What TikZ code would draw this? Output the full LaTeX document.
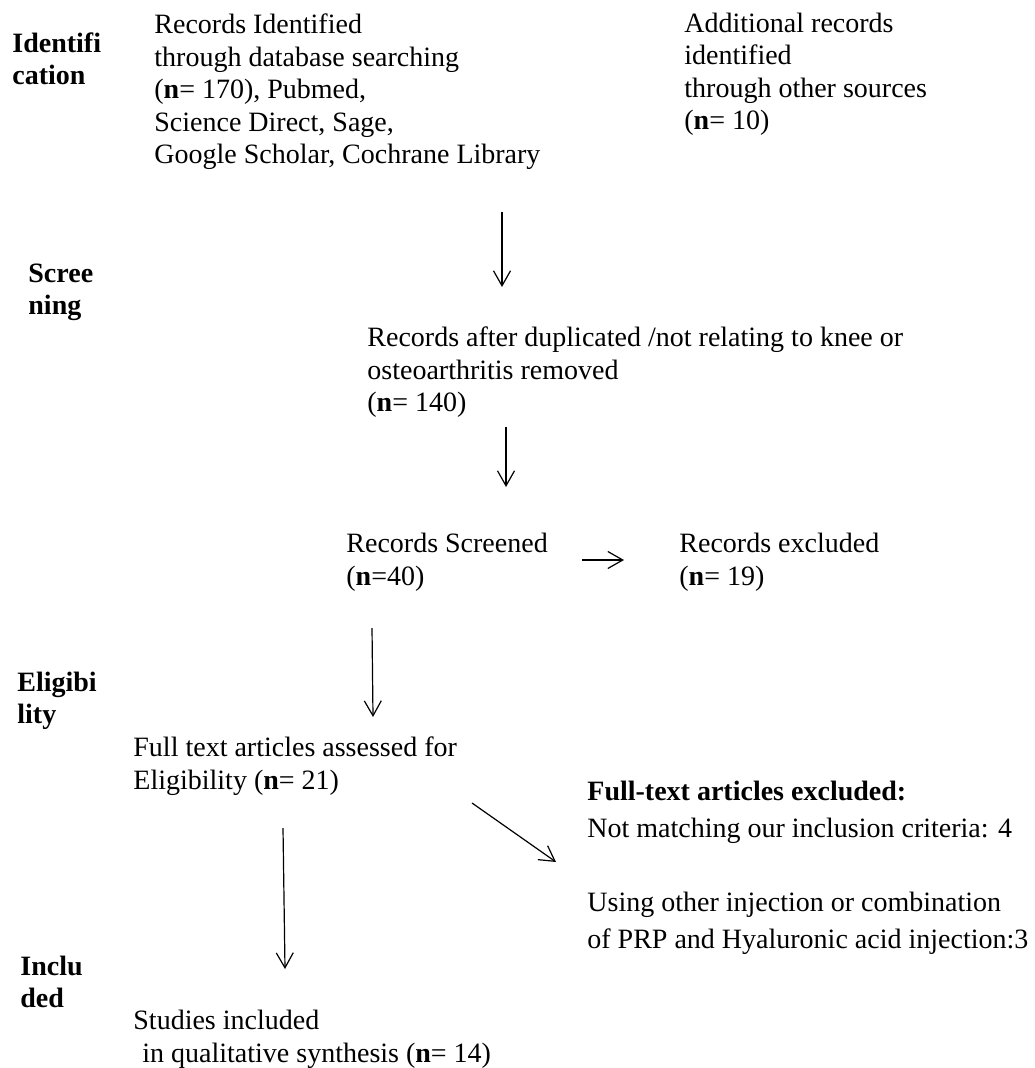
\documentclass[tikz,border=0pt]{standalone}
\usepackage{fontspec}
\setmainfont{Liberation Serif}
\usetikzlibrary{arrows.meta,positioning}

\begin{document}
\begin{tikzpicture}[x=0.5pt,y=-0.5pt,
    every node/.style={inner sep=0pt},
    txt/.style={anchor=base west,align=left,font=\fontsize{14pt}{16.25pt}\selectfont},
    stage/.style={anchor=base west,align=left,font=\fontsize{14pt}{16pt}\selectfont\bfseries},
    flow/.style={->,line width=0.6pt},
    >={Straight Barb[length=7.5pt,width=8.5pt]}]
    \useasboundingbox (0,0) rectangle (1034,1068);

    % stage labels (placed at the baseline of their last line)
    \node[stage] (ident) at (12,85) {Identifi \\ cation};
    \node[stage] (screen) at (28,315) {Scree \\ ning};
    \node[stage] (elig) at (17,723) {Eligibi \\ lity};
    \node[stage] (incl) at (20,1007) {Inclu \\ ded};

    % boxes
    \node[txt] (dbrec) at (154,164) {Records Identified \\ through database searching \\ (\textbf{n}= 170), Pubmed, \\ Science Direct, Sage, \\ Google Scholar, Cochrane Library};
    \node[txt] (otherrec) at (684,130) {Additional records \\ identified \\ through other sources \\ (\textbf{n}= 10)};
    \node[txt] (dedup) at (367,412) {Records after duplicated /not relating to knee or \\ osteoarthritis removed \\ (\textbf{n}= 140)};
    \node[txt] (screened) at (346,585) {Records Screened \\ (\textbf{n}=40)};
    \node[txt] (recexcl) at (679,585) {Records excluded \\ (\textbf{n}= 19)};
    \node[txt] (fulltext) at (133,789) {Full text articles assessed for \\ Eligibility (\textbf{n}= 21)};
    \node[txt,font=\fontsize{14pt}{18.5pt}\selectfont] (ftexcl) at (587,948) {\textbf{Full-text articles excluded:} \\ Not matching our inclusion criteria: 4 \\[18.5pt] Using other injection or combination \\ of PRP and Hyaluronic acid injection:3};
    \node[txt] (studies) at (133,1062) {Studies included \\ \hspace{4.5pt}in qualitative synthesis (\textbf{n}= 14)};

    % arrow ends
    \coordinate (a1s) at (502,212);
    \coordinate (a1e) at (502,287);
    \coordinate (a2s) at (506,427);
    \coordinate (a2e) at (506,487);
    \coordinate (a3s) at (582,560);
    \coordinate (a3e) at (624,560);
    \coordinate (a4s) at (372,628);
    \coordinate (a4e) at (373,717);
    \coordinate (a5s) at (472,803);
    \coordinate (a5e) at (556,862);
    \coordinate (a6s) at (283,828);
    \coordinate (a6e) at (285,969);

    \draw[flow] (a1s) -- (a1e);
    \draw[flow] (a2s) -- (a2e);
    \draw[flow] (a3s) -- (a3e);
    \draw[flow] (a4s) -- (a4e);
    \draw[flow] (a5s) -- (a5e);
    \draw[flow] (a6s) -- (a6e);
\end{tikzpicture}
\end{document}
